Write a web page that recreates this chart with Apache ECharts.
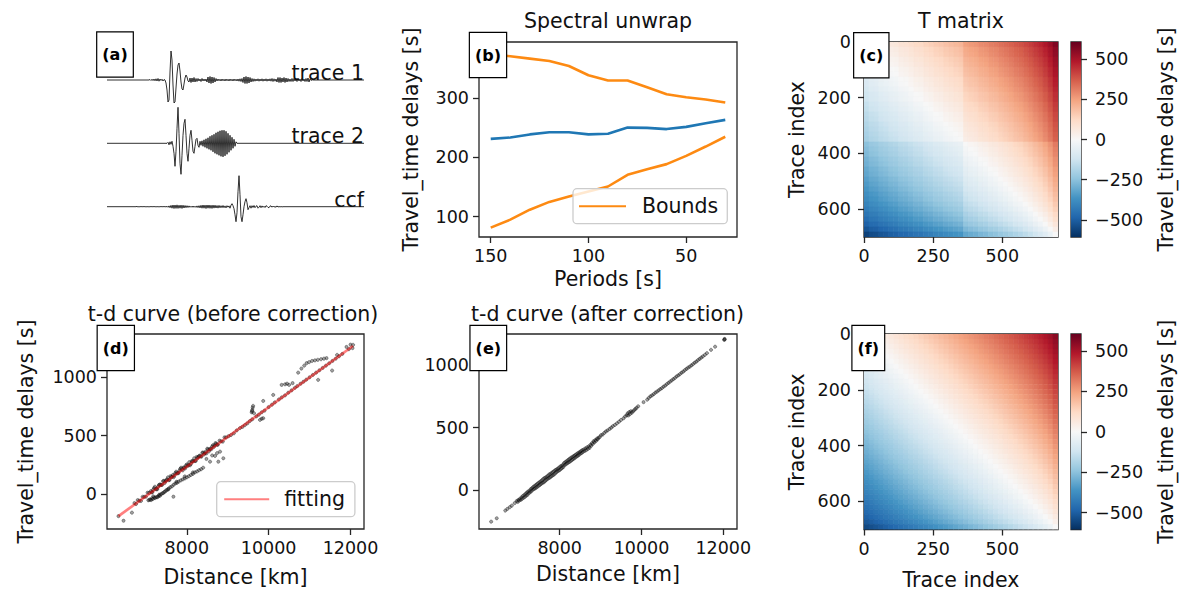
<!DOCTYPE html>
<html>
<head>
<meta charset="utf-8">
<script src="https://cdn.jsdelivr.net/npm/echarts@6.0.0/dist/echarts.min.js"></script>
<style>
html,body{margin:0;padding:0;background:#ffffff;}
#chart{width:1181px;height:594px;}
</style>
</head>
<body>
<div id="chart"></div>
<script>
// ================= DATA =================
// (a) waveforms: amplitude samples, one per time unit, beginning at *Start
const waveTimeMax = 257;
const trace1Start = 43;
const trace1Amp = [
  0.5,-0.5,0.8,-0.6,1,-0.8,1.2,-1,1.5,-1.2,1,-0.5,0.8,-1,0.5,
  0,-3,-10,-22,-20,8,29,20,-5,-23,-22,-8,6,15,17,9,-2,-9,-10,-4,2,5,3,-1,
  -2,2,-2.5,2,-2,2.5,-2,1.5,-1.5,1.5,-1,1,-1.5,1.5,-1,1,-1,1,-2,
  3,-3,3.5,-3.5,3,-3,2.5,-2,1.5,
  -1,1,-0.8,0.8,-1,1,-0.8,0.8,-1,1,-0.8,0.8,-1,1,-0.8,0.8,-1,1,-0.8,0.8,-1,1,-1.2,1.2,-1.5,1.5,
  -2.5,3,-3.5,3.5,-3.5,3,-3,2.5,-2,1.5,-1.5,
  1.2,-1.2,1,-1,1.2,-1.2,1,-1,1.2,-1.2,1,-1,1.2,-1.2,1,-1,1.2,-1.2,1.5,-1.5,1.2,-1.2,1,
  -2,2.5,-2.5,2.5,-2.5,2,-2,2.5,-2.5,2,-2,1.5,-1.5,1,
  -1.5,1.5,-1.5,1.5,-1,1,-1.5,1.5,-1,1,-1.5,1.5,-1,1,-1.5,1.5,-1.5,2,-2,1,-0.5,0.3,0
];
const trace2Start = 60;
const trace2Amp = [
  0,1,-1.5,1.5,-1,2,-3,-10,
  -23,-8,15,36,10,-20,-31,-12,8,20,24,8,-10,-18,-5,8,13,3,-8,-10,-3,4,5,-2,-4,
  2,-2,2.5,-3,3.5,-4,4.5,-5,5.5,-6,7,-7,8,-8.5,9,-10,10.5,-11,11.5,-12,12.5,-13,13,-13.5,13,-12.5,12,-11,10,-9,8,-7,6,-5,4,-3,1.5,0
];
const ccfStart = 30;
const ccfAmp = [
  0.3,-0.3,0.2,-0.3,0.4,-0.3,0.3,-0.2,0.3,-0.4,0.3,-0.3,0.2,-0.3,0.4,-0.3,0.3,-0.2,0.3,-0.4,0.3,-0.3,0.2,-0.3,0.4,-0.3,0.3,-0.2,0.3,-0.4,0.5,-0.6,0.8,
  -1,1.3,-1.5,1.7,-1.8,1.7,-1.7,1.8,-1.7,1.5,-1.5,1.6,-1.7,1.5,-1.3,1.2,-1,1,-0.8,0.8,-0.6,
  0.5,-0.6,0.7,-0.6,0.5,-0.7,0.8,-0.9,1,
  -1.2,1.4,-1.5,1.7,-1.5,1.6,-1.8,1.7,-1.5,1.7,-1.6,1.5,-1.7,1.6,-1.4,1.5,-1.3,1.2,-1.4,1.3,-1.1,1,-1,
  1.2,-1,0.8,-1.2,1,-0.5,0.8,-1.5,1.5,3,1,-2,
  -8,-15,-6,15,31,12,-10,-15,-8,0,5,8,4,-3,-1,
  1,-1.5,1,-0.8,1.2,-1,0.5,1,-1.5,-0.5,1,-1,0.8,-0.6,0.5,-0.8,1,0.5,-0.7,-1,0.6,0.8,-0.5,0.6,-0.4,0.3,-0.6,0.8,-0.4,0.3,-0.3,0.2,-0.2,0
];
const waveLabels = ['trace 1', 'trace 2', 'ccf'];

// (b) spectral unwrap
const periods    = [150, 140, 130, 120, 110, 100, 90, 80, 70, 60, 50, 40, 30];
const delayEst   = [231.5, 233.7, 239, 242.7, 242.7, 239, 240, 250.5, 250, 248, 251.7, 258, 263.5];
const boundUpper = [375, 371, 367, 363, 354.5, 339, 330, 330, 318.5, 306.7, 301.7, 298, 293];
const boundLower = [81.5, 95, 111.8, 125, 134, 142.7, 151, 170.8, 180, 188.8, 202.8, 218.5, 235];
const periodTicks = [150, 100, 50];
const delayTicksB = [100, 200, 300];

// (c)/(f) T matrix: per-trace delays sampled every 18 traces; T[i][j] = d[j] - d[i]
const traceCount = 702;
const traceIndex = [0,18,36,54,72,90,108,126,144,162,180,198,216,234,252,270,288,306,324,342,360,378,396,414,432,450,468,486,504,522,540,558,576,594,612,630,648,666,684];
const traceDelayBefore = [0,20,26,42,50,64,70,86,92,104,118,122,138,146,160,166,180,188,198,206,250,262,270,286,294,310,318,334,346,360,376,388,406,424,446,466,492,524,566];
const traceDelayAfter  = [0,14,28,40,54,66,80,92,105,118,130,143,156,168,181,194,206,219,232,245,258,271,284,297,310,323,337,350,364,378,392,407,422,438,455,473,493,516,550];
const cbarRangeC = 607;
const cbarRangeF = 605;
const traceTicksX = [0, 250, 500];
const traceTicksY = [0, 200, 400, 600];
const cbarTicks = [-500, -250, 0, 250, 500];

// (d) t-d curve before correction: [distance km, delay s]
const beforeMain = [[6720,-78],[6760,-86],[6800,-52],[6840,-58],[6880,-60],[6920,-24],[6960,-24],[7000,-23],[7040,11],[7080,9],[7120,24],[7160,16],[7200,50],[7240,44],[7280,42],[7320,77],[7360,78],[7400,79],[7440,113],[7480,111],[7520,125],[7560,118],[7600,152],[7640,146],[7680,144],[7720,179],[7760,179],[7800,181],[7840,215],[7880,213],[7920,227],[7960,219],[8000,253],[8040,248],[8080,246],[8120,281],[8160,281],[8200,282],[8240,317],[8280,315],[8320,329],[8360,321],[8400,355],[8440,349],[8480,348],[8520,383],[8560,383],[8600,384],[8640,418],[8680,417],[8720,431],[8760,423],[8800,457],[8840,451],[8880,449],[8920,485],[8960,485],
  [7140,14],[7180,37],[7220,62],[7260,39],[7300,63],[7340,82],[7380,78],[7420,110],[7460,95],[7500,118],[7540,143],[7580,121],[7620,145],[7660,163],[7700,159],[7740,191],[7780,177],[7820,200],[7860,225],[7900,202],[7940,226],[7980,244],[8020,241],[8060,273],[8100,258],[8140,281],[8180,306],[8220,284],[8260,308],[8300,326],[8340,322],[8380,354],[8420,339],[8460,363],[8500,388],[8540,365],[8580,389],[8620,407],[8660,403],[8700,436],[8740,421]];
const beforeBranch = [[7060,-54],[7085,-50],[7110,-46],[7130,-52],[7150,-39],[7175,-42],[7180,-20],[7200,-30],[7225,-35],[7250,-26],[7275,-28],[7300,-23],[7320,-12],[7330,-5],[7345,-15],[7370,-2],[7400,5],[7425,8],[7450,18],[7475,22],[7500,32],[7530,38],[7550,40],[7560,48],[7600,59],[7640,66],[7680,80],[7720,90],[7750,105],[7760,96],[7800,106],[7850,116],[7900,125],[7950,133],[7950,150],[8000,143],[8050,152],[8100,163],[8150,172],[8150,185],[8200,186],[8250,193],[8300,204],[8350,212],[8400,225]];
const beforeOutliers = [[6330,-190],[6454,-229],[6659,-160],[7673,-23],[8480,300],[8568,277],[8620,330],[8690,326],[8740,350],[8771,277],[8812,363],[8893,306]];
const beforeFar = [[9020,495],[9080,505],[9150,520],[9220,545],[9300,565],[9360,575],[9420,590],[9480,605],[9540,625],[9585,700],[9595,710],[9600,640],[9600,720],[9610,740],[9620,755],[9641,692],[9700,665],[9760,680],[9788,635],[9830,700],[9830,645],[9868,649],[9868,797],[9900,715],[10000,745],[10080,765],[10112,849],[10150,785],[10250,810],[10317,935],[10320,828],[10400,845],[10400,940],[10450,945],[10480,868],[10500,935],[10560,888],[10585,950],[10640,910],[10700,925],[10722,1040],[10780,945],[10800,1075],[10850,962],[10870,1100],[10920,980],[10927,1121],[10990,1130],[11000,1000],[11060,1140],[11080,1020],[11130,1145],[11160,1040],[11200,1150],[11210,978],[11240,1060],[11280,1155],[11320,1080],[11350,1160],[11400,1100],[11415,1164],[11480,1120],[11551,1058],[11560,1140],[11640,1160],[11673,1192],[11720,1180],[11800,1200],[11902,1260],[11960,1241],[12000,1280],[12050,1250],[12063,1278]];
const fitDist  = [6330, 12060];
const fitDelay = [-190, 1268];

// (e) t-d curve after correction
const afterStart = [[6324,-254],[6460,-227],[6670,-165],[6720,-152],[6780,-138],[6830,-125],[6900,-105]];
const afterDense = [[6950,-88],[6972,-96],[6990,-80],[7010,-85],[7030,-70],[7048,-79],[7065,-60],[7080,-72],[7100,-48],[7118,-62],[7135,-40],[7150,-55],[7168,-30],[7185,-45],[7200,-20],[7215,-38],[7230,-12],[7248,-25],[7262,-5],[7280,-18],[7295,8],[7310,-8],[7325,15],[7340,2],[7355,25],[7370,8],[7385,32],[7400,12],[7415,40],[7430,20],[7445,48],[7460,28],[7475,55],[7490,35],[7505,62],[7520,42],[7535,70],[7550,50],[7565,78],[7580,58],[7595,88],[7610,62],[7625,95],[7640,70],[7655,100],[7670,80],[7685,108],[7700,88],[7715,115],[7730,95],[7745,125],[7760,100],[7775,130],[7790,108],[7805,138],[7820,115],[7835,145],[7850,122],[7865,152],[7880,130],[7895,160],[7910,140],[7925,165],[7940,148],[7955,172],[7970,155],[7985,180],[8000,160],[8015,188],[8030,170],[8045,195],[8060,176],[8075,200],[8090,185],[8105,216],[8120,200],[8135,223],[8150,206],[8165,230],[8180,213],[8195,238],[8210,220],[8225,246],[8240,226],[8255,253],[8270,233],[8285,260],[8300,240],[8315,266],[8330,248],[8345,273],[8360,254],[8375,280],[8390,263],[8405,286],[8420,270],[8435,293],[8450,276],[8465,300],[8480,284],[8495,306],[8510,293],[8525,313],[8540,298],[8555,320],[8570,306],[8590,326],[8610,313],[8630,334],[8650,320],[8670,343],[8690,330],[8710,350],[8730,338],[8750,362],[8770,354],[8790,377],[8810,370],[8830,392],[8850,382],[8870,400],[8890,394],[8910,412],[8930,407],[8950,420]];
const afterFar = [[8980,425],[9010,440],[9050,445],[9090,458],[9130,470],[9170,478],[9220,490],[9260,500],[9300,512],[9350,522],[9400,535],[9450,548],[9500,562],[9560,575],[9600,590],[9640,600],[9660,615],[9680,598],[9700,625],[9720,610],[9740,632],[9760,620],[9790,630],[9820,640],[9850,650],[9880,660],[9920,672],[10050,705],[10140,725],[10180,740],[10220,752],[10260,760],[10300,770],[10340,782],[10380,790],[10420,800],[10460,810],[10500,818],[10540,830],[10580,838],[10620,850],[10660,860],[10700,870],[10740,880],[10780,890],[10820,900],[10860,912],[10900,920],[10940,930],[10980,942],[11020,950],[11060,962],[11100,972],[11140,982],[11180,990],[11220,1000],[11260,1010],[11300,1022],[11340,1030],[11380,1042],[11420,1052],[11460,1062],[11500,1072],[11550,1085],[11600,1098],[11700,1125],[11800,1150],[12020,1205],[12030,1212],[12035,1208]];
const distTicks = [8000, 10000, 12000];
const delayTicksTD = [0, 500, 1000];

// ================= STYLE =================
const FONT = "'DejaVu Sans', 'Liberation Sans', sans-serif";
const INK = '#111111';
const SPINE = '#262626';
const RDBU_R = ['#053061','#2166ac','#4393c3','#92c5de','#d1e5f0','#f7f7f7','#fddbc7','#f4a582','#d6604d','#b2182b','#67001f'];
const C_BLUE = '#1f77b4';
const C_ORANGE = '#fd8a12';
const C_FIT = 'rgba(255,0,0,0.5)';

// ================= BUILD =================
function waveData(start, amp) {
  const d = [[0, 0], [start - 1, 0]];
  amp.forEach((a, k) => d.push([start + k, a]));
  d.push([start + amp.length, 0], [waveTimeMax, 0]);
  return d;
}
function matrixCells(delays) {
  const cells = [];
  const n = traceIndex.length;
  for (let i = 0; i < n; i++) {
    const y0 = traceIndex[i] - 0.5, y1 = (i + 1 < n ? traceIndex[i + 1] : traceCount) - 0.5;
    for (let j = 0; j < n; j++) {
      const x0 = traceIndex[j] - 0.5, x1 = (j + 1 < n ? traceIndex[j + 1] : traceCount) - 0.5;
      cells.push([x0, x1, y0, y1, delays[j] - delays[i]]);
    }
  }
  return cells;
}
function cellRender(params, api) {
  const p0 = api.coord([api.value(0), api.value(2)]);
  const p1 = api.coord([api.value(1), api.value(3)]);
  const c = api.visual('color');
  return {
    type: 'rect',
    shape: {x: Math.min(p0[0], p1[0]), y: Math.min(p0[1], p1[1]), width: Math.abs(p1[0] - p0[0]), height: Math.abs(p1[1] - p0[1])},
    style: {fill: c, stroke: c, lineWidth: 0.6}
  };
}
function cbarRender(params, api) {
  const pTop = api.coord([0, api.value(2)]);
  const pBot = api.coord([1, api.value(1)]);
  const stops = RDBU_R.slice().reverse().map((c, k) => ({offset: k / (RDBU_R.length - 1), color: c}));
  return {
    type: 'rect',
    shape: {x: pTop[0], y: pTop[1], width: pBot[0] - pTop[0], height: pBot[1] - pTop[1]},
    style: {fill: new echarts.graphic.LinearGradient(0, 0, 0, 1, stops)}
  };
}
const plainFmt = v => (v < 0 ? '\u2212' + Math.abs(v) : String(v));

function tickAxis(o) {
  const base = {
    type: 'value',
    splitLine: {show: false},
    axisLine: {show: false, onZero: false},
    axisTick: {show: true, length: 6, lineStyle: {color: SPINE, width: 1.3}},
    axisLabel: {show: true, color: INK, fontFamily: FONT, fontSize: 17.5, margin: 10, formatter: plainFmt, hideOverlap: false},
    nameLocation: 'middle',
    nameMoveOverlap: false,
    nameTextStyle: {color: INK, fontFamily: FONT, fontSize: 20.5}
  };
  const r = Object.assign({}, base, o);
  r.axisTick = Object.assign({}, base.axisTick, o.axisTick || {});
  r.axisLabel = Object.assign({}, base.axisLabel, o.axisLabel || {});
  return r;
}
function hiddenAxis(o) {
  return Object.assign({type: 'value', show: false, splitLine: {show: false}, axisLine: {show: false, onZero: false}, axisTick: {show: false}, axisLabel: {show: false}}, o);
}
function gridBox(left, top, width, height, show) {
  return {left, top, width, height, show: !!show, borderColor: SPINE, borderWidth: 1.3, backgroundColor: 'transparent', containLabel: false, outerBoundsMode: 'none'};
}
function labelBox(txt, cx, cy) {
  return {type: 'text', x: cx, y: cy, z: 100,
    style: {text: txt, fontFamily: FONT, fontSize: 16, fontWeight: 'bold', fill: '#000',
      backgroundColor: '#ffffff', borderColor: '#000000', borderWidth: 1.2, padding: [14, 5, 14, 5],
      align: 'center', verticalAlign: 'middle'}};
}
function plainText(txt, x, y, size, align) {
  return {type: 'text', x, y, z: 100,
    style: {text: txt, fontFamily: FONT, fontSize: size, fill: INK, align: align || 'center', verticalAlign: 'middle'}};
}

const lineBase = {type: 'line', symbol: 'none', showSymbol: false, silent: true, animation: false};
const scatterStyle = {color: 'rgba(40,40,40,0.55)', borderColor: 'rgba(0,0,0,0.85)', borderWidth: 0.5};
const legendBase = {orient: 'vertical', selectedMode: false, itemHeight: 14,
  backgroundColor: 'rgba(255,255,255,0.8)', borderColor: '#cccccc', borderWidth: 1.3, borderRadius: 4,
  itemStyle: {opacity: 0}};

const option = {
  animation: false,
  backgroundColor: '#ffffff',
  textStyle: {fontFamily: FONT},
  grid: [
    gridBox(107, 40, 257, 80, false),
    gridBox(107, 103.3, 257, 80, false),
    gridBox(107, 166.7, 257, 80, false),
    gridBox(479, 42, 258, 195, true),
    gridBox(864, 42, 194, 195, true),
    gridBox(1071, 42, 10, 195, true),
    gridBox(107, 334, 257, 195, true),
    gridBox(479, 334, 258, 195, true),
    gridBox(864, 334, 194, 195.5, true),
    gridBox(1071, 334, 10, 195.5, true)
  ],
  xAxis: [
    hiddenAxis({gridIndex: 0, min: 0, max: waveTimeMax}),
    hiddenAxis({gridIndex: 1, min: 0, max: waveTimeMax}),
    hiddenAxis({gridIndex: 2, min: 0, max: waveTimeMax}),
    tickAxis({gridIndex: 3, min: 24, max: 156, inverse: true, name: 'Periods [s]', nameGap: 31,
      axisTick: {customValues: periodTicks}, axisLabel: {customValues: periodTicks}}),
    tickAxis({gridIndex: 4, min: -0.5, max: traceCount - 0.5,
      axisTick: {customValues: traceTicksX}, axisLabel: {customValues: traceTicksX}}),
    hiddenAxis({gridIndex: 5, min: 0, max: 1}),
    tickAxis({gridIndex: 6, min: 6050, max: 12330, name: 'Distance [km]', nameGap: 37,
      axisTick: {customValues: distTicks}, axisLabel: {customValues: distTicks}}),
    tickAxis({gridIndex: 7, min: 6027, max: 12335, name: 'Distance [km]', nameGap: 34,
      axisTick: {customValues: distTicks}, axisLabel: {customValues: distTicks}}),
    tickAxis({gridIndex: 8, min: -0.5, max: traceCount - 0.5, name: 'Trace index', nameGap: 40,
      axisTick: {customValues: traceTicksX}, axisLabel: {customValues: traceTicksX}}),
    hiddenAxis({gridIndex: 9, min: 0, max: 1})
  ],
  yAxis: [
    hiddenAxis({gridIndex: 0, min: -40, max: 40}),
    hiddenAxis({gridIndex: 1, min: -40, max: 40}),
    hiddenAxis({gridIndex: 2, min: -40, max: 40}),
    tickAxis({gridIndex: 3, min: 65.7, max: 395.1, name: 'Travel_time delays [s]', nameGap: 58, nameRotate: 90,
      axisTick: {customValues: delayTicksB}, axisLabel: {customValues: delayTicksB}}),
    tickAxis({gridIndex: 4, min: -0.5, max: traceCount - 0.5, inverse: true, name: 'Trace index', nameGap: 57, nameRotate: 90,
      axisTick: {customValues: traceTicksY}, axisLabel: {customValues: traceTicksY, margin: 13}}),
    tickAxis({gridIndex: 5, position: 'right', min: -cbarRangeC, max: cbarRangeC, name: 'Travel_time delays [s]', nameGap: 74, nameRotate: 90,
      axisTick: {customValues: cbarTicks}, axisLabel: {customValues: cbarTicks, margin: 14}}),
    tickAxis({gridIndex: 6, min: -300, max: 1371, name: 'Travel_time delays [s]', nameGap: 71, nameRotate: 90,
      axisTick: {customValues: delayTicksTD}, axisLabel: {customValues: delayTicksTD}}),
    tickAxis({gridIndex: 7, min: -313, max: 1252,
      axisTick: {customValues: delayTicksTD}, axisLabel: {customValues: delayTicksTD}}),
    tickAxis({gridIndex: 8, min: -0.5, max: traceCount - 0.5, inverse: true, name: 'Trace index', nameGap: 57, nameRotate: 90,
      axisTick: {customValues: traceTicksY}, axisLabel: {customValues: traceTicksY, margin: 13}}),
    tickAxis({gridIndex: 9, position: 'right', min: -cbarRangeF, max: cbarRangeF, name: 'Travel_time delays [s]', nameGap: 74, nameRotate: 90,
      axisTick: {customValues: cbarTicks}, axisLabel: {customValues: cbarTicks, margin: 14}})
  ],
  visualMap: [
    {type: 'continuous', show: false, min: -cbarRangeC, max: cbarRangeC, dimension: 4, seriesIndex: 6, inRange: {color: RDBU_R}},
    {type: 'continuous', show: false, min: -cbarRangeF, max: cbarRangeF, dimension: 4, seriesIndex: 11, inRange: {color: RDBU_R}}
  ],
  legend: [
    Object.assign({}, legendBase, {data: ['Bounds'], left: 573, top: 188.7, itemWidth: 47, padding: [7, 9, 7, 5],
      textStyle: {fontFamily: FONT, fontSize: 20.5, color: INK, padding: [0, 0, 0, 11]}}),
    Object.assign({}, legendBase, {data: ['fitting'], left: 216.7, top: 481.7, itemWidth: 45, padding: [7, 10, 7, 6.5],
      textStyle: {fontFamily: FONT, fontSize: 20.5, color: INK, padding: [0, 0, 0, 10]}})
  ],
  series: [
    Object.assign({}, lineBase, {name: 'trace1', xAxisIndex: 0, yAxisIndex: 0, data: waveData(trace1Start, trace1Amp), lineStyle: {color: '#1a1a1a', width: 0.9}}),
    Object.assign({}, lineBase, {name: 'trace2', xAxisIndex: 1, yAxisIndex: 1, data: waveData(trace2Start, trace2Amp), lineStyle: {color: '#1a1a1a', width: 0.9}}),
    Object.assign({}, lineBase, {name: 'ccf', xAxisIndex: 2, yAxisIndex: 2, data: waveData(ccfStart, ccfAmp), lineStyle: {color: '#1a1a1a', width: 0.9}}),
    Object.assign({}, lineBase, {name: 'Bounds', xAxisIndex: 3, yAxisIndex: 3, data: periods.map((p, k) => [p, boundUpper[k]]), lineStyle: {color: C_ORANGE, width: 2.6}, itemStyle: {color: C_ORANGE}}),
    Object.assign({}, lineBase, {name: 'estimate', xAxisIndex: 3, yAxisIndex: 3, data: periods.map((p, k) => [p, delayEst[k]]), lineStyle: {color: C_BLUE, width: 2.6}, itemStyle: {color: C_BLUE}}),
    Object.assign({}, lineBase, {name: 'Bounds', xAxisIndex: 3, yAxisIndex: 3, data: periods.map((p, k) => [p, boundLower[k]]), lineStyle: {color: C_ORANGE, width: 2.6}, itemStyle: {color: C_ORANGE}}),
    {type: 'custom', name: 'T before', xAxisIndex: 4, yAxisIndex: 4, renderItem: cellRender, data: matrixCells(traceDelayBefore),
      encode: {x: [0, 1], y: [2, 3]}, clip: true, silent: true, progressive: 0, animation: false},
    {type: 'custom', name: 'cbar before', xAxisIndex: 5, yAxisIndex: 5, renderItem: cbarRender, data: [[0, -cbarRangeC, cbarRangeC]],
      encode: {x: 0, y: [1, 2]}, silent: true, animation: false},
    {type: 'scatter', name: 'before', xAxisIndex: 6, yAxisIndex: 6, symbolSize: 3.2, silent: true, animation: false, progressive: 0,
      data: beforeMain.concat(beforeBranch, beforeOutliers, beforeFar), itemStyle: scatterStyle},
    Object.assign({}, lineBase, {name: 'fitting', xAxisIndex: 6, yAxisIndex: 6, data: fitDist.map((d, k) => [d, fitDelay[k]]), lineStyle: {color: C_FIT, width: 2.7}, itemStyle: {color: C_FIT}, z: 3}),
    {type: 'scatter', name: 'after', xAxisIndex: 7, yAxisIndex: 7, symbolSize: 3.2, silent: true, animation: false, progressive: 0,
      data: afterStart.concat(afterDense, afterFar), itemStyle: scatterStyle},
    {type: 'custom', name: 'T after', xAxisIndex: 8, yAxisIndex: 8, renderItem: cellRender, data: matrixCells(traceDelayAfter),
      encode: {x: [0, 1], y: [2, 3]}, clip: true, silent: true, progressive: 0, animation: false},
    {type: 'custom', name: 'cbar after', xAxisIndex: 9, yAxisIndex: 9, renderItem: cbarRender, data: [[0, -cbarRangeF, cbarRangeF]],
      encode: {x: 0, y: [1, 2]}, silent: true, animation: false}
  ],
  graphic: [
    plainText('Spectral unwrap', 608, 21, 20.5),
    plainText('T matrix', 961, 21, 20.5),
    plainText('t-d curve (before correction)', 233, 314, 20.5),
    plainText('t-d curve (after correction)', 607.5, 313.5, 20.5),
    plainText(waveLabels[0], 364, 73, 20.5, 'right'),
    plainText(waveLabels[1], 364, 136.4, 20.5, 'right'),
    plainText(waveLabels[2], 364, 199.8, 20.5, 'right'),
    labelBox('(a)', 115, 54.5),
    labelBox('(b)', 488, 55),
    labelBox('(c)', 871.3, 55.3),
    labelBox('(d)', 115.8, 348),
    labelBox('(e)', 488.3, 348),
    labelBox('(f)', 868.3, 348)
  ]
};

const chart = echarts.init(document.getElementById('chart'), null, {renderer: 'svg', width: 1181, height: 594});
chart.setOption(option);
</script>
</body>
</html>
